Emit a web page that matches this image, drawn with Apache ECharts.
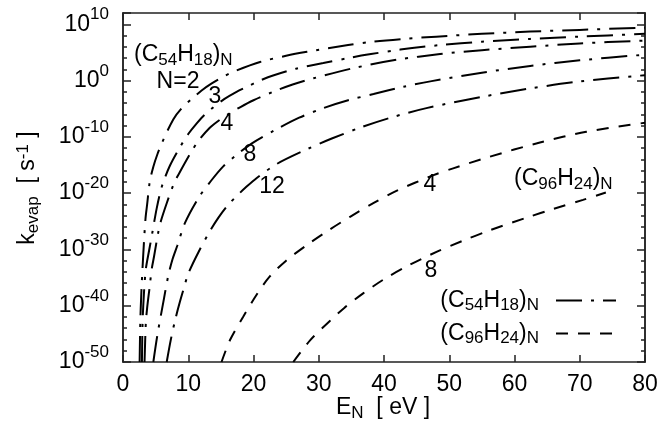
<!DOCTYPE html>
<html><head><meta charset="utf-8">
<script src="https://cdn.jsdelivr.net/npm/echarts@6/dist/echarts.min.js"></script>
<style>html,body{margin:0;padding:0;background:#fff}#c{width:664px;height:432px}</style>
</head><body><div id="c"></div>
<script>
// ---- data: E_N in eV, log10(k_evap / s^-1) ----
const c54n2E = [2.55, 2.65, 2.8, 3.1, 3.45, 3.7, 4.1, 4.65, 5.3, 6.0, 7.7, 9.0, 10.5, 12.0, 13.6, 15.4, 17.2, 21.0, 25.0, 28.2, 34.5, 38.3, 43.0, 48.0, 55.0, 62.4, 70.0, 80.0];
const c54n2L = [-50, -43, -38, -31, -24.5, -22, -18, -15.3, -13, -11, -6.9, -4.9, -3.3, -1.8, -0.5, 0.7, 1.7, 3.3, 4.4, 5.1, 6.3, 6.9, 7.4, 7.8, 8.3, 8.7, 9.0, 9.4];

const c54n3E = [2.9, 3.0, 3.2, 3.5, 4.0, 4.5, 4.8, 5.15, 5.6, 6.1, 7.2, 8.8, 10.0, 11.3, 12.5, 13.9, 15.5, 17.4, 19.0, 21.0, 23.0, 26.5, 30.7, 35.0, 38.0, 42.5, 48.6, 55.0, 62.4, 70.0, 80.0];
const c54n3L = [-50, -43, -38, -33.5, -30.2, -27.0, -25.0, -22.8, -20.4, -18.3, -15.1, -11.7, -9.5, -7.6, -6.1, -4.7, -3.3, -2.0, -1.1, 0.0, 0.9, 2.1, 3.1, 4.1, 4.7, 5.5, 6.3, 6.9, 7.4, 7.8, 8.3];

const c54n4E = [3.3, 3.5, 3.7, 4.1, 4.4, 4.75, 5.4, 5.8, 6.7, 7.8, 8.7, 9.5, 10.5, 11.5, 13.3, 14.8, 16.4, 18.0, 20.0, 23.0, 26.0, 29.2, 35.3, 42.0, 48.6, 55.0, 62.4, 70.0, 80.0];
const c54n4L = [-50, -43, -40.4, -36.5, -33.5, -31.3, -27.0, -25.0, -21.8, -18.3, -16.3, -14.6, -12.6, -10.8, -8.4, -7.0, -5.8, -4.7, -3.5, -2.0, -0.7, 0.4, 2.2, 3.7, 4.7, 5.4, 6.0, 6.6, 7.1];

const c54n8E = [4.65, 5.3, 6.3, 6.95, 7.6, 8.3, 9.5, 11.6, 13.5, 15.4, 17.2, 19.7, 23.3, 27.0, 30.7, 34.5, 38.4, 43.0, 47.3, 55.0, 62.4, 70.0, 80.0];
const c54n8L = [-50, -45.0, -38.6, -34.6, -31.7, -29.4, -25.3, -20.8, -17.8, -15.2, -13.4, -11.2, -8.8, -6.6, -4.9, -3.5, -2.4, -1.1, -0.1, 1.4, 2.6, 3.6, 4.6];

const c54n12E = [6.7, 7.3, 8.0, 8.7, 9.4, 10.0, 11.6, 13.3, 14.6, 16.1, 17.7, 18.7, 20.5, 23.6, 28.2, 32.0, 36.5, 41.0, 46.5, 55.0, 62.4, 70.0, 80.0];
const c54n12L = [-50, -46.2, -42.5, -39.4, -36.6, -34.3, -30.4, -26.8, -24.4, -22.1, -20.2, -19.1, -17.3, -14.8, -12.2, -10.3, -8.3, -6.6, -4.9, -2.9, -1.4, -0.15, 0.95];

const c96n4E = [15.1, 16.4, 18.4, 20.5, 22.5, 25.0, 28.2, 31.5, 34.8, 38.5, 41.9, 47.6, 50.6, 56.0, 63.9, 71.0, 80.0];
const c96n4L = [-50, -46.1, -42.0, -38.0, -34.8, -32.0, -29.2, -26.6, -24.2, -21.7, -19.6, -16.8, -15.6, -13.6, -11.0, -9.1, -7.5];

const c96n8E = [26.1, 28.7, 31.7, 34.0, 36.8, 40.0, 43.5, 48.3, 52.0, 56.0, 62.0, 66.0, 70.5, 74.0];
const c96n8L = [-50, -46.1, -42.7, -40.3, -37.8, -35.3, -33.0, -30.3, -28.5, -26.7, -24.3, -22.8, -21.2, -19.9];

const yTicks = [-50, -40, -30, -20, -10, 0, 10];
const xTicks = [0, 10, 20, 30, 40, 50, 60, 70, 80];

const C54 = '(C54H18)N';
const C96 = '(C96H24)N';
const curveLabels = ['N=2', '3', '4', '8', '12', '4', '8'];

// ---- styling ----
const FF = '"Liberation Sans", Arial, Helvetica, sans-serif';
const FS = 23, FSS = 17;
const AX = '#222';
const c54Dash = [26, 9, 3, 9];
const c96Dash = [12, 10];

const rich = {
  b: {fontSize: FS, fontFamily: FF, color: '#000', lineHeight: 27},
  sub: {fontSize: FSS, fontFamily: FF, color: '#000', lineHeight: 15, verticalAlign: 'bottom'},
  sup: {fontSize: FSS, fontFamily: FF, color: '#000', lineHeight: 15, verticalAlign: 'top'}
};
const yRich = {
  b: {fontSize: FS, fontFamily: FF, color: '#000', lineHeight: 36},
  s: {fontSize: FSS, fontFamily: FF, color: '#000', lineHeight: 14, verticalAlign: 'top'}
};
const formula = {};
formula[C54] = '{b|(C}{sub|54}{b|H}{sub|18}{b|)}{sub|N}';
formula[C96] = '{b|(C}{sub|96}{b|H}{sub|24}{b|)}{sub|N}';

function pairs(e, l) { return e.map((x, i) => [x, l[i]]); }
function curve(name, e, l, dash) {
  return {
    type: 'line', name: name, data: pairs(e, l), xAxisIndex: 0, yAxisIndex: 0,
    symbol: 'none', showSymbol: false, smooth: 0.3, silent: true, animation: false,
    itemStyle: {color: '#000'},
    lineStyle: {color: '#000', width: 2, type: dash, cap: 'butt'}
  };
}

const lineSt = {color: AX, width: 1.5};
function yAx(pos, interval, len, labels) {
  return {
    type: 'value', position: pos, min: -50, max: 12, interval: interval,
    axisLine: {show: true, onZero: false, lineStyle: lineSt},
    axisTick: {show: true, inside: true, length: len, lineStyle: lineSt},
    axisLabel: labels ? {
      show: true, margin: 14, fontFamily: FF, color: '#000', rich: yRich,
      formatter: v => yTicks.indexOf(v) >= 0 ? '{b|10}{s|' + v + '}' : ''
    } : {show: false},
    splitLine: {show: false}
  };
}
function xAx(pos, labels) {
  return {
    type: 'value', position: pos, min: xTicks[0], max: xTicks[xTicks.length - 1], interval: 10,
    axisLine: {show: true, onZero: false, lineStyle: lineSt},
    axisTick: {show: true, inside: true, length: 7, lineStyle: lineSt},
    axisLabel: labels ? {show: true, margin: 11, fontSize: FS, fontFamily: FF, color: '#000'} : {show: false},
    splitLine: {show: false}
  };
}

function txt(x, y, text, align, r, rot) {
  const el = {type: 'text', x: x, y: y, silent: true, z: 100,
    style: {text: text, align: align || 'center', verticalAlign: 'middle', fill: '#000', fontSize: FS, fontFamily: FF}};
  if (r) el.style.rich = r;
  if (rot) el.rotation = rot;
  return el;
}

const option = {
  animation: false,
  backgroundColor: '#fff',
  grid: {left: 123, right: 19, top: 13, bottom: 70, containLabel: false},
  xAxis: [xAx('bottom', true), xAx('top', false)],
  yAxis: [yAx('left', 10, 8, true), yAx('left', 2, 4, false), yAx('right', 10, 8, false), yAx('right', 2, 4, false)],
  legend: {
    data: [C54, C96], orient: 'vertical', align: 'right', right: 47, top: 289, padding: 0,
    itemWidth: 60, itemHeight: 14, itemGap: 8, selectedMode: false,
    itemStyle: {opacity: 0, borderWidth: 0},
    formatter: n => formula[n],
    textStyle: {rich: rich, padding: [0, 12, 0, 0], color: '#000'}
  },
  series: [
    curve(C54, c54n2E, c54n2L, c54Dash),
    curve(C54, c54n3E, c54n3L, c54Dash),
    curve(C54, c54n4E, c54n4L, c54Dash),
    curve(C54, c54n8E, c54n8L, c54Dash),
    curve(C54, c54n12E, c54n12L, c54Dash),
    curve(C96, c96n4E, c96n4L, c96Dash),
    curve(C96, c96n8E, c96n8L, c96Dash)
  ],
  graphic: [
    txt(134, 55, formula[C54], 'left', rich),
    txt(178, 82, curveLabels[0]),
    txt(215, 97, curveLabels[1]),
    txt(227, 124, curveLabels[2]),
    txt(250, 155, curveLabels[3]),
    txt(272, 187, curveLabels[4]),
    txt(430, 185, curveLabels[5]),
    txt(431, 271, curveLabels[6]),
    txt(514, 179, formula[C96], 'left', rich),
    txt(383, 408, '{b|E}{sub|N}{b|  [ eV ]}', 'center', rich),
    txt(28, 188, '{b|k}{sub|evap}{b|  [ s}{sup|-1}{b| ]}', 'center', rich, Math.PI / 2)
  ]
};
const chart = echarts.init(document.getElementById('c'), null, {renderer: 'canvas'});
chart.setOption(option);
</script></body></html>
